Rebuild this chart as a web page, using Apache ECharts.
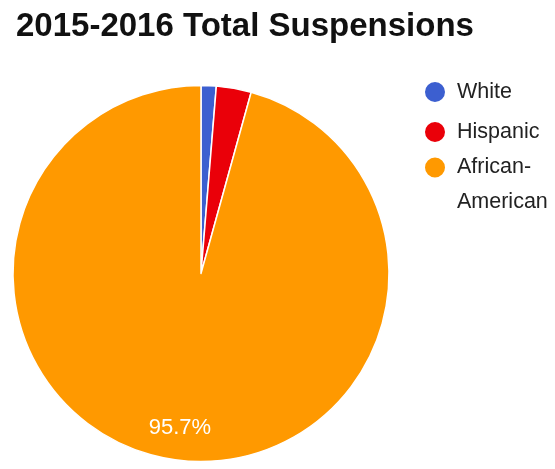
<!DOCTYPE html>
<html>
<head>
<meta charset="utf-8">
<script src="https://cdn.jsdelivr.net/npm/echarts@6/dist/echarts.min.js"></script>
<style>
html,body{margin:0;padding:0;background:#fff;}
#main{width:555px;height:469px;}
</style>
</head>
<body>
<div id="main"></div>
<script>
const categories = ['White', 'Hispanic', 'African-American'];
const values = [1.3, 3.0, 95.7];
const colors = ['#3c5fd0', '#ea0009', '#ff9900'];

const data = categories.map((c, i) => ({ name: c, value: values[i], itemStyle: { color: colors[i] } }));
const R = 188;
const center = [201, 273.5];
const font = 'Liberation Sans, Arial, sans-serif';

const chart = echarts.init(document.getElementById('main'), null, { renderer: 'canvas' });
chart.setOption({
  animation: false,
  title: {
    text: '2015-2016 Total Suspensions',
    left: 16, top: 10,
    padding: 0,
    textStyle: { fontFamily: font, fontSize: 33, fontWeight: 'bold', color: '#111' }
  },
  legend: [
    {
      data: categories.slice(0, 2),
      orient: 'vertical', left: 423, top: 80, padding: 0,
      icon: 'circle', itemWidth: 34, itemHeight: 22, itemGap: 16,
      textStyle: { fontFamily: font, fontSize: 21.5, lineHeight: 24, color: '#222' }
    },
    {
      data: categories.slice(2),
      orient: 'vertical', left: 423, top: 115, padding: 0,
      icon: 'circle', itemWidth: 34, itemHeight: 22,
      formatter: function (n) { return ' \n' + n.replace('-', '-\n'); },
      textStyle: { fontFamily: font, fontSize: 21.5, lineHeight: 35, color: '#222' }
    }
  ],
  series: [
    {
      type: 'pie',
      center: center,
      radius: [0, R],
      startAngle: 90,
      clockwise: true,
      avoidLabelOverlap: false,
      itemStyle: { borderColor: '#fff', borderWidth: 1.5 },
      label: { show: false },
      labelLine: { show: false },
      emphasis: { disabled: true },
      data: data
    },
    {
      type: 'pie',
      center: center,
      radius: [0, R * 1.63],
      startAngle: 90,
      clockwise: true,
      silent: true,
      avoidLabelOverlap: false,
      itemStyle: { color: 'rgba(0,0,0,0)', borderWidth: 0 },
      label: {
        show: true, position: 'inside',
        fontFamily: font, fontSize: 22, color: '#fff',
        formatter: function (p) { return p.percent > 5 ? p.value.toFixed(1) + '%' : ''; }
      },
      labelLine: { show: false },
      emphasis: { disabled: true },
      tooltip: { show: false },
      data: categories.map((c, i) => ({ name: c, value: values[i] }))
    }
  ]
});
</script>
</body>
</html>
